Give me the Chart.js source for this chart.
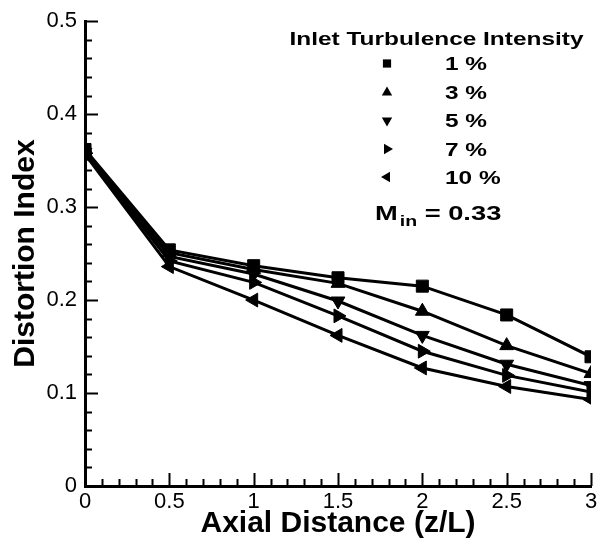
<!DOCTYPE html>
<html>
<head>
<meta charset="utf-8">
<script src="https://cdn.jsdelivr.net/npm/chart.js@4.4.1/dist/chart.umd.min.js"></script>
<style>
  html, body { margin: 0; padding: 0; background: #fff; }
</style>
</head>
<body>
<canvas id="chart" width="606" height="540"></canvas>
<script>
// datos
const axialDistance = [0, 0.5, 1, 1.5, 2, 2.5, 3];
const ti1  = [0.362, 0.254, 0.237, 0.224, 0.215, 0.184, 0.139];
const ti3  = [0.360, 0.251, 0.233, 0.218, 0.188, 0.151, 0.121];
const ti5  = [0.359, 0.247, 0.228, 0.199, 0.162, 0.131, 0.108];
const ti7  = [0.358, 0.242, 0.219, 0.183, 0.145, 0.119, 0.101];
const ti10 = [0.357, 0.236, 0.200, 0.162, 0.127, 0.107, 0.093];
const seriesLabels = ['1 %', '3 %', '5 %', '7 %', '10 %'];

const xTicks = [0, 0.5, 1, 1.5, 2, 2.5, 3];
const xTickLabels = ['0', '0.5', '1', '1.5', '2', '2.5', '3'];
const yTicks = [0, 0.1, 0.2, 0.3, 0.4, 0.5];
const yTickLabels = ['0', '0.1', '0.2', '0.3', '0.4', '0.5'];

const legendTitle = 'Inlet Turbulence Intensity';
const machLabel = 'M';
const machSub = 'in';
const machValue = ' = 0.33';

const FONT = "'Liberation Sans', Arial, Helvetica, sans-serif";

// estilos de marcador por serie
const markers = [
  { pointStyle: 'rect', rotation: 0, radius: 8.5 },
  { pointStyle: 'triangle', rotation: 0, radius: 8 },
  { pointStyle: 'triangle', rotation: 180, radius: 8 },
  { pointStyle: 'triangle', rotation: 90, radius: 8 },
  { pointStyle: 'triangle', rotation: 270, radius: 8 }
];

function makeDataset(label, values, m) {
  return {
    label: label,
    data: axialDistance.map((x, i) => ({ x: x, y: values[i] })),
    borderColor: '#000',
    backgroundColor: '#000',
    borderWidth: 3,
    tension: 0,
    pointStyle: m.pointStyle,
    pointRotation: m.rotation,
    pointRadius: m.radius,
    pointBorderWidth: 1,
    pointBackgroundColor: '#000',
    pointBorderColor: '#000'
  };
}

// ticks menores y mayores hacia adentro
const axisTicks = {
  id: 'axisTicks',
  afterDatasetsDraw(chart) {
    const { ctx, chartArea, scales: { x, y } } = chart;
    ctx.save();
    ctx.strokeStyle = '#000';
    ctx.lineWidth = 2;
    ctx.beginPath();
    for (let k = 0; k <= 30; k++) {
      const px = Math.round(x.getPixelForValue(k / 10)) + 0.5;
      const len = (k % 5 === 0) ? 13 : 7;
      ctx.moveTo(px, chartArea.bottom);
      ctx.lineTo(px, chartArea.bottom - len);
    }
    for (let k = 0; k <= 25; k++) {
      const py = Math.round(y.getPixelForValue(k / 50)) + 0.5;
      const len = (k % 5 === 0) ? 13 : 7;
      ctx.moveTo(chartArea.left, py);
      ctx.lineTo(chartArea.left + len, py);
    }
    ctx.stroke();
    ctx.restore();
  }
};

function drawMarker(ctx, m, r, x, y) {
  if (Chart.helpers && Chart.helpers.drawPoint) {
    Chart.helpers.drawPoint(ctx, { pointStyle: m.pointStyle, rotation: m.rotation, radius: r, borderWidth: 0 }, x, y);
    return;
  }
  ctx.save();
  ctx.translate(x, y);
  ctx.rotate(m.rotation * Math.PI / 180);
  ctx.beginPath();
  if (m.pointStyle === 'rect') {
    const s = r * Math.SQRT1_2;
    ctx.rect(-s, -s, 2 * s, 2 * s);
  } else {
    ctx.moveTo(0, -r);
    ctx.lineTo(r * 0.866, r * 0.5);
    ctx.lineTo(-r * 0.866, r * 0.5);
    ctx.closePath();
  }
  ctx.fill();
  ctx.restore();
}

// leyenda dibujada a mano (texto algo ensanchado como el original)
const legendBox = {
  id: 'legendBox',
  afterDraw(chart) {
    const ctx = chart.ctx;
    const stretch = 1.3;
    ctx.save();
    ctx.fillStyle = '#000';
    ctx.textBaseline = 'alphabetic';

    function txt(s, x, y, size, align) {
      ctx.save();
      ctx.font = 'bold ' + size + 'px ' + FONT;
      ctx.translate(x, y);
      ctx.scale(stretch, 1);
      ctx.textAlign = align;
      ctx.fillText(s, 0, 0);
      const w = ctx.measureText(s).width * stretch;
      ctx.restore();
      return w;
    }

    txt(legendTitle, 436.5, 45, 18.8, 'center');

    const rowY = [63.5, 92.5, 120.5, 149, 177];
    seriesLabels.forEach((lab, i) => {
      const r = markers[i].pointStyle === 'rect' ? 5.8 : 6;
      drawMarker(ctx, markers[i], r, 387, rowY[i]);
      txt(lab, 445, rowY[i] + 6.6, 18.8, 'left');
    });

    let mx = 375;
    mx += txt(machLabel, mx, 220, 21, 'left');
    mx += 2;
    mx += txt(machSub, mx, 226, 15, 'left');
    txt(machValue, mx, 220, 21, 'left');
    ctx.restore();
  }
};

const ctx = document.getElementById('chart').getContext('2d');
const chart = new Chart(ctx, {
  type: 'line',
  data: {
    datasets: [
      makeDataset(seriesLabels[0], ti1, markers[0]),
      makeDataset(seriesLabels[1], ti3, markers[1]),
      makeDataset(seriesLabels[2], ti5, markers[2]),
      makeDataset(seriesLabels[3], ti7, markers[3]),
      makeDataset(seriesLabels[4], ti10, markers[4])
    ]
  },
  options: {
    responsive: false,
    devicePixelRatio: 1,
    animation: false,
    layout: { padding: { top: 20, right: 15, left: 0, bottom: 0 } },
    plugins: {
      legend: { display: false },
      tooltip: { enabled: false }
    },
    scales: {
      x: {
        type: 'linear',
        min: 0,
        max: 3,
        afterBuildTicks: (s) => { s.ticks = xTicks.map(v => ({ value: v })); },
        afterFit: (s) => { s.height = 54; },
        ticks: {
          callback: (v) => xTickLabels[xTicks.indexOf(v)],
          font: { family: FONT, size: 22 },
          color: '#000',
          padding: 3,
          maxRotation: 0,
          autoSkip: false
        },
        grid: { display: false, drawTicks: false },
        border: { display: true, color: '#000', width: 3 },
        title: {
          display: true,
          text: 'Axial Distance (z/L)',
          color: '#000',
          font: { family: FONT, size: 30, weight: 'bold', lineHeight: 1 },
          padding: { top: 0, bottom: 1 }
        }
      },
      y: {
        min: 0,
        max: 0.5,
        afterBuildTicks: (s) => { s.ticks = yTicks.map(v => ({ value: v })); },
        afterFit: (s) => { s.width = 85; },
        ticks: {
          callback: (v) => yTickLabels[yTicks.indexOf(v)],
          font: { family: FONT, size: 22 },
          color: '#000',
          padding: 8,
          autoSkip: false
        },
        grid: { display: false, drawTicks: false },
        border: { display: true, color: '#000', width: 3 },
        title: {
          display: true,
          text: 'Distortion Index',
          color: '#000',
          font: { family: FONT, size: 30, weight: 'bold', lineHeight: 1 },
          padding: { top: 11, bottom: 0 }
        }
      }
    }
  },
  plugins: [axisTicks, legendBox]
});
</script>
</body>
</html>
